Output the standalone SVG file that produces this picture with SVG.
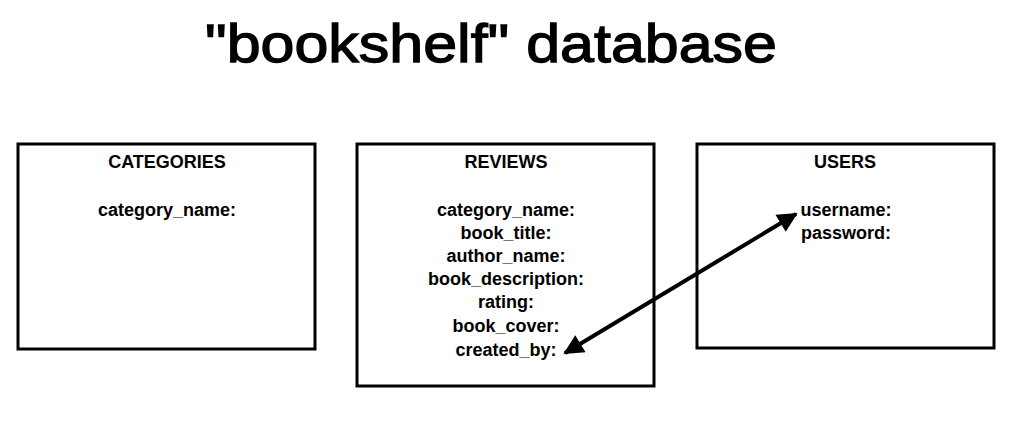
<svg xmlns="http://www.w3.org/2000/svg" width="1013" height="443" viewBox="0 0 1013 443">
<style>
.box{fill:#fff;stroke:#000;stroke-width:3}
.t{font-family:"Liberation Sans",Arial,sans-serif;font-weight:bold;font-size:18px;fill:#000;text-anchor:middle}
.title{font-family:"Liberation Sans",Arial,sans-serif;font-size:54px;fill:#000;stroke:#000;stroke-width:1.3;text-anchor:middle}
.conn{stroke:#000;stroke-width:4;fill:none}
</style>
<defs>
<marker id="ah" viewBox="0 0 10 10" refX="9" refY="5" markerWidth="5.5" markerHeight="5" orient="auto-start-reverse" markerUnits="strokeWidth">
<path d="M0,0 L10,5 L0,10 z" fill="#000"/>
</marker>
</defs>
<rect width="1013" height="443" fill="#fff"/>
<text class="title" x="491" y="62" textLength="572" lengthAdjust="spacingAndGlyphs">"bookshelf" database</text>
<g id="categories">
<rect class="box" x="18" y="144" width="297" height="205"/>
<text class="t" x="167" y="168">CATEGORIES</text>
<text class="t" x="167" y="216">category_name:</text>
</g>
<g id="reviews">
<rect class="box" x="357" y="144" width="297" height="242"/>
<text class="t" x="506" y="168">REVIEWS</text>
<text class="t" x="506" y="216">category_name:</text>
<text class="t" x="506" y="239">book_title:</text>
<text class="t" x="506" y="262">author_name:</text>
<text class="t" x="506" y="285">book_description:</text>
<text class="t" x="506" y="308">rating:</text>
<text class="t" x="506" y="332">book_cover:</text>
<text class="t" x="506" y="356">created_by:</text>
</g>
<g id="users">
<rect class="box" x="697" y="144" width="297" height="204"/>
<text class="t" x="845" y="168">USERS</text>
<text class="t" x="846" y="216">username:</text>
<text class="t" x="846" y="239">password:</text>
</g>
<g id="connectors">
<line class="conn" x1="565" y1="353" x2="796" y2="214" marker-start="url(#ah)" marker-end="url(#ah)"/>
</g>
</svg>
